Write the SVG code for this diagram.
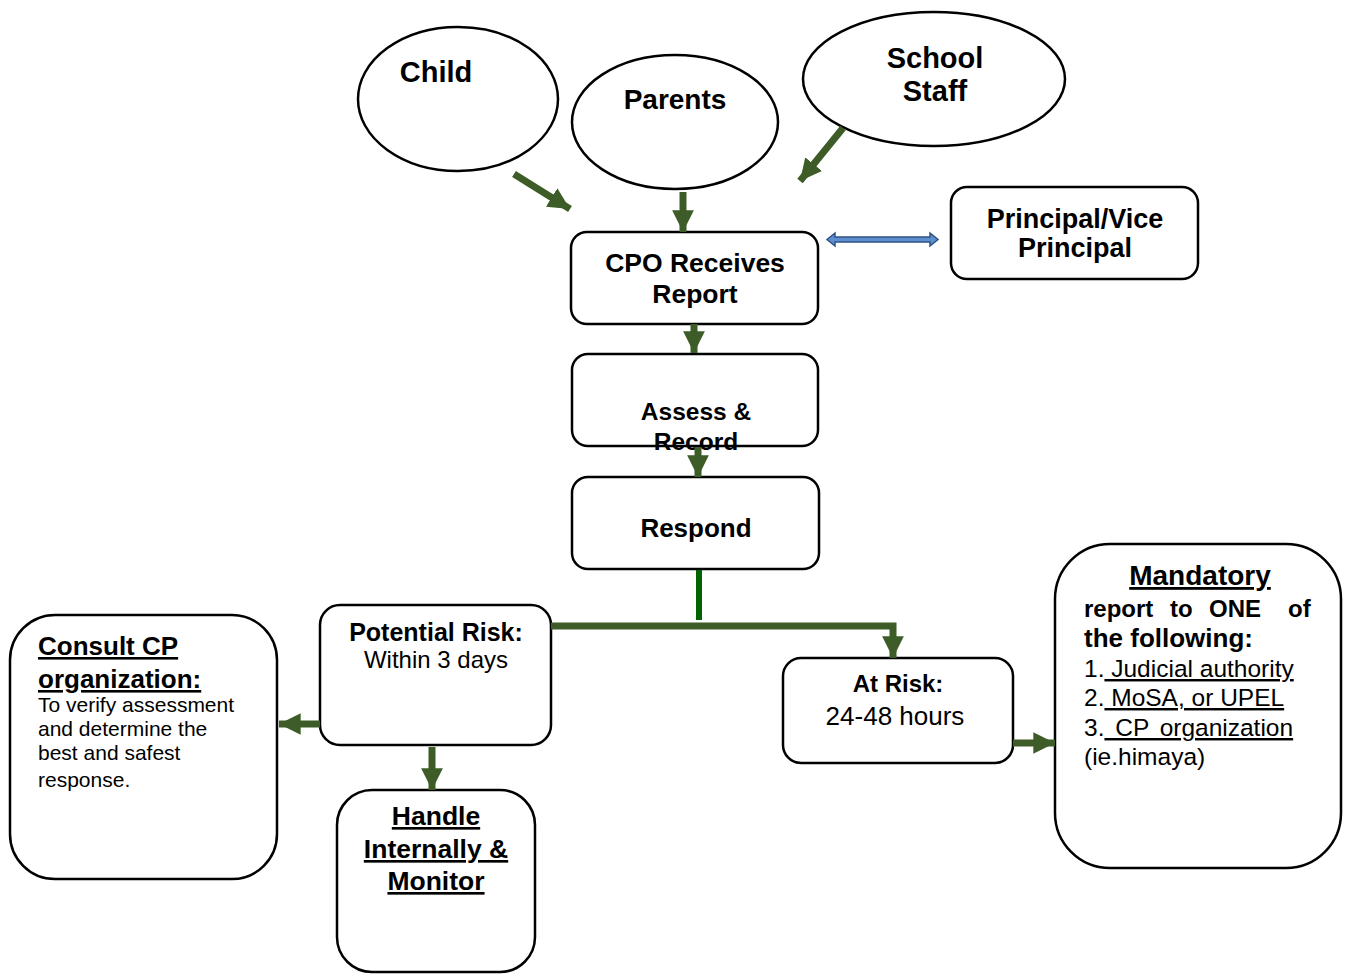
<svg xmlns="http://www.w3.org/2000/svg" width="1345" height="974" viewBox="0 0 1345 974">
<style>
.shape{fill:#fff;stroke:#000;stroke-width:2.5}
.t{font-family:"Liberation Sans",Arial,sans-serif;fill:#000}
.b{font-weight:bold}
.c{text-anchor:middle}
.u{text-decoration:underline}
.arr{stroke:#3d5c27;stroke-width:7;fill:none;marker-end:url(#ah)}
</style>
<defs>
<marker id="ah" viewBox="0 0 10 10" refX="10" refY="5" markerWidth="3.1" markerHeight="3.1" orient="auto" markerUnits="strokeWidth">
<path d="M0,0 L10,5 L0,10 z" fill="#3d5c27"/>
</marker>
</defs>
<rect width="1345" height="974" fill="#fff"/>

<g id="child"><ellipse class="shape" cx="458" cy="99" rx="100" ry="72"/><text class="t b c" x="436" y="82" font-size="29">Child</text></g>
<g id="parents"><ellipse class="shape" cx="675" cy="122" rx="103" ry="67"/><text class="t b c" x="675" y="109" font-size="28">Parents</text></g>
<g id="staff"><ellipse class="shape" cx="934" cy="79" rx="131" ry="67"/><text class="t b c" x="935" y="68" font-size="29">School</text><text class="t b c" x="935" y="101" font-size="29">Staff</text></g>

<g id="cpo"><rect class="shape" x="571" y="232" width="247" height="92" rx="16"/><text class="t b c" x="695" y="272" font-size="26.5">CPO Receives</text><text class="t b c" x="695" y="303" font-size="26.5">Report</text></g>
<g id="principal"><rect class="shape" x="951" y="187" width="247" height="92" rx="16"/><text class="t b c" x="1075" y="228" font-size="27">Principal/Vice</text><text class="t b c" x="1075" y="257" font-size="27">Principal</text></g>
<g id="assess"><rect class="shape" x="572" y="354" width="246" height="92" rx="16"/><text class="t b c" x="696" y="420" font-size="24.5">Assess &amp;</text><text class="t b c" x="696" y="450" font-size="24.5">Record</text></g>
<g id="respond"><rect class="shape" x="572" y="477" width="247" height="92" rx="16"/><text class="t b c" x="696" y="537" font-size="26">Respond</text></g>

<g id="potential"><rect class="shape" x="320" y="605" width="231" height="140" rx="20"/><text class="t b c" x="436" y="641" font-size="25">Potential Risk:</text><text class="t c" x="436" y="668" font-size="24">Within 3 days</text></g>
<g id="consult"><rect class="shape" x="10" y="615" width="267" height="264" rx="45"/>
<text class="t b u" x="38" y="655" font-size="26">Consult CP</text>
<text class="t b u" x="38" y="688" font-size="26">organization:</text>
<text class="t" x="38" y="712" font-size="21">To verify assessment</text>
<text class="t" x="38" y="736" font-size="21">and determine the</text>
<text class="t" x="38" y="760" font-size="21">best and safest</text>
<text class="t" x="38" y="787" font-size="21">response.</text></g>
<g id="handle"><rect class="shape" x="337" y="790" width="198" height="182" rx="35"/>
<text class="t b c u" x="436" y="825" font-size="26.5">Handle</text>
<text class="t b c u" x="436" y="858" font-size="26.5">Internally &amp;</text>
<text class="t b c u" x="436" y="890" font-size="26.5">Monitor</text></g>
<g id="atrisk"><rect class="shape" x="783" y="658" width="230" height="105" rx="18"/><text class="t b c" x="898" y="692" font-size="24">At Risk:</text><text class="t c" x="895" y="725" font-size="26">24-48 hours</text></g>
<g id="mandatory"><rect class="shape" x="1055" y="544" width="286" height="324" rx="55"/>
<text class="t b c u" x="1200" y="585" font-size="28">Mandatory</text>
<text class="t b" y="617" font-size="24"><tspan x="1084">report</tspan><tspan x="1170">to</tspan><tspan x="1209">ONE</tspan><tspan x="1288">of</tspan></text>
<text class="t b" x="1084" y="647" font-size="26">the following:</text>
<text class="t" x="1084" y="677" font-size="24.5">1.<tspan class="u"> Judicial authority</tspan></text>
<text class="t" x="1084" y="706" font-size="24.5">2.<tspan class="u"> MoSA, or UPEL</tspan></text>
<text class="t" x="1084" y="736" font-size="24.5">3.<tspan class="u" word-spacing="4">  CP organization</tspan></text>
<text class="t" x="1084" y="765" font-size="24.5">(ie.himaya)</text></g>

<g id="connectors">
<line class="arr" x1="514" y1="174" x2="570" y2="209"/>
<line class="arr" x1="683" y1="192" x2="683" y2="232"/>
<line class="arr" x1="843" y1="128" x2="800" y2="181"/>
<line class="arr" x1="694" y1="324" x2="694" y2="353"/>
<line class="arr" x1="698" y1="447" x2="698" y2="477"/>
<line x1="699" y1="570" x2="699" y2="620" stroke="#006400" stroke-width="6"/>
<polyline class="arr" points="551,626 893,626 893,658"/>
<line class="arr" x1="320" y1="724" x2="279" y2="724"/>
<line class="arr" x1="432" y1="747" x2="432" y2="790"/>
<line class="arr" x1="1013" y1="743" x2="1055" y2="743"/>
<polygon points="827,239.5 835,233 835,237 930,237 930,233 938,239.5 930,246 930,242 835,242 835,246" fill="#5b8fd0" stroke="#2f5383" stroke-width="1.5"/>
</g>
</svg>
